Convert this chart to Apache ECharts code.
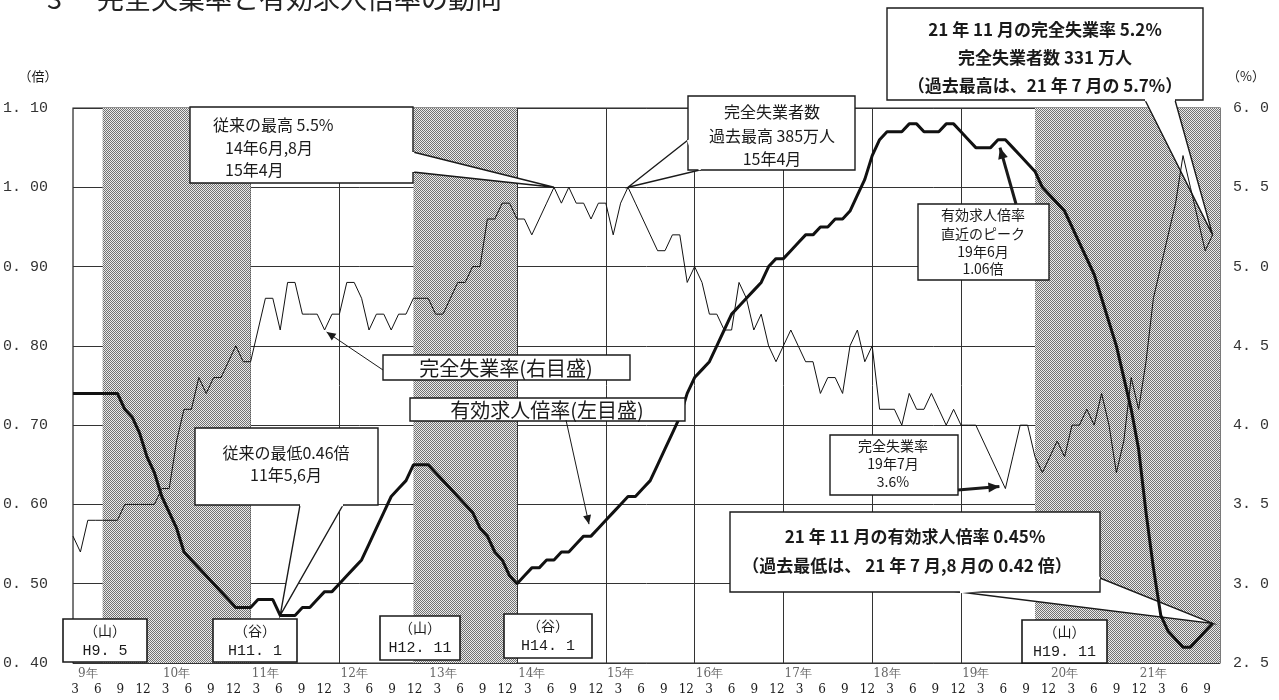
<!DOCTYPE html>
<html><head><meta charset="utf-8">
<script src="https://cdn.jsdelivr.net/npm/echarts@6/dist/echarts.min.js"></script>
<style>html,body{margin:0;padding:0;background:#fff;}#c{width:1279px;height:700px;}</style>
</head><body><div id="c"></div>
<script>
// ---- data ----
const categories = [];
for (let y = 1997; y <= 2009; y++) for (let m = 1; m <= 12; m++) categories.push(y + '-' + String(m).padStart(2, '0'));
const yearLabels = ['9年','10年','11年','12年','13年','14年','15年','16年','17年','18年','19年','20年','21年'];
const monthTickLabels = ['3','6','9','12'];
const leftTickLabels = ['0. 40','0. 50','0. 60','0. 70','0. 80','0. 90','1. 00','1. 10'];
const rightTickLabels = ['2. 5','3. 0','3. 5','4. 0','4. 5','5. 0','5. 5','6. 0'];
// 完全失業率 (%), Jan 1997 - Nov 2009
const unemploymentRate = [
 3.3,3.2,3.4,3.4,3.4,3.4,3.4,3.5,3.5,3.5,3.5,3.5,
 3.6,3.6,3.9,4.1,4.1,4.3,4.2,4.3,4.3,4.4,4.5,4.4,
 4.4,4.6,4.8,4.8,4.6,4.9,4.9,4.7,4.7,4.7,4.6,4.7,
 4.7,4.9,4.9,4.8,4.6,4.7,4.7,4.6,4.7,4.7,4.8,4.8,
 4.8,4.7,4.7,4.8,4.9,4.9,5.0,5.0,5.3,5.3,5.4,5.4,
 5.3,5.3,5.2,5.3,5.4,5.5,5.4,5.5,5.4,5.4,5.3,5.4,
 5.4,5.2,5.4,5.5,5.4,5.3,5.2,5.1,5.1,5.2,5.2,4.9,
 5.0,4.9,4.7,4.7,4.6,4.6,4.9,4.8,4.6,4.7,4.5,4.4,
 4.5,4.6,4.5,4.4,4.4,4.2,4.3,4.3,4.2,4.5,4.6,4.4,
 4.5,4.1,4.1,4.1,4.0,4.2,4.1,4.1,4.2,4.1,4.0,4.1,
 4.0,4.0,4.0,3.9,3.8,3.7,3.6,3.8,4.0,4.0,3.8,3.7,
 3.8,3.9,3.8,4.0,4.0,4.1,4.0,4.2,4.0,3.7,3.9,4.3,
 4.1,4.4,4.8,5.0,5.2,5.4,5.7,5.5,5.3,5.1,5.2
];
// 有効求人倍率 (倍), Jan 1997 - Nov 2009
const jobOpeningsRatio = [
 0.74,0.74,0.74,0.74,0.74,0.74,0.74,0.72,0.71,0.69,0.66,0.64,
 0.61,0.59,0.57,0.54,0.53,0.52,0.51,0.50,0.49,0.48,0.47,0.47,
 0.47,0.48,0.48,0.48,0.46,0.46,0.46,0.47,0.47,0.48,0.49,0.49,
 0.50,0.51,0.52,0.53,0.55,0.57,0.59,0.61,0.62,0.63,0.65,0.65,
 0.65,0.64,0.63,0.62,0.61,0.60,0.59,0.57,0.56,0.54,0.53,0.51,
 0.50,0.51,0.52,0.52,0.53,0.53,0.54,0.54,0.55,0.56,0.56,0.57,
 0.58,0.59,0.60,0.61,0.61,0.62,0.63,0.65,0.67,0.69,0.71,0.74,
 0.76,0.77,0.78,0.80,0.82,0.84,0.85,0.86,0.87,0.88,0.90,0.91,
 0.91,0.92,0.93,0.94,0.94,0.95,0.95,0.96,0.96,0.97,0.99,1.01,
 1.04,1.06,1.07,1.07,1.07,1.08,1.08,1.07,1.07,1.07,1.08,1.08,
 1.07,1.06,1.05,1.05,1.05,1.06,1.06,1.05,1.04,1.03,1.02,1.00,
 0.99,0.98,0.97,0.95,0.93,0.91,0.89,0.86,0.83,0.80,0.76,0.72,
 0.67,0.59,0.52,0.46,0.44,0.43,0.42,0.42,0.43,0.44,0.45
];
// 景気の山・谷 (shaded = recession)
const recessions = [['1997-05','1999-01'],['2000-11','2002-01'],['2007-11','2009-12']];

// ---- pattern for shaded bands ----
const pc = document.createElement('canvas'); pc.width = 2; pc.height = 2;
const pg = pc.getContext('2d');
pg.fillStyle = '#ebebeb'; pg.fillRect(0, 0, 2, 2);
pg.fillStyle = '#727272'; pg.fillRect(0, 0, 1, 1); pg.fillRect(1, 1, 1, 1);

const chart = echarts.init(document.getElementById('c'), null, {renderer: 'canvas'});
const serifNum = 'Liberation Mono';
const jp = '"Noto Sans CJK JP", "Noto Sans", sans-serif';
const option = {
  animation: false,
  backgroundColor: '#fff',
  grid: [
    {left: 73, right: 59, top: 108, bottom: 37, show: true, borderColor: '#222', borderWidth: 1.2, backgroundColor: 'transparent'},
    {left: 60, right: 49.3, top: 108, bottom: 37, show: false}
  ],
  xAxis: [
    {type: 'category', data: categories, boundaryGap: false, gridIndex: 0,
     axisLine: {show: false}, axisTick: {show: false},
     axisLabel: {interval: (i, v) => v.endsWith('-03'), formatter: v => yearLabels[+v.slice(0, 4) - 1997],
       margin: 5, fontSize: 12, color: '#666', fontFamily: 'DejaVu Serif, serif'},
     splitLine: {show: true, interval: (i) => i > 0 && i % 12 === 0, lineStyle: {color: '#333', width: 1}}},
    {type: 'category', data: categories, boundaryGap: false, gridIndex: 1,
     axisLine: {show: false}, axisTick: {show: false},
     axisLabel: {interval: (i, v) => i < 153 && (+v.slice(5)) % 3 === 0, formatter: v => monthTickLabels[(+v.slice(5)) / 3 - 1],
       margin: 21, fontSize: 12, color: '#1a1a1a', fontFamily: 'DejaVu Serif, serif'},
     splitLine: {show: false}}
  ],
  yAxis: [
    {type: 'value', min: 0.4, max: 1.1, interval: 0.1, gridIndex: 0,
     axisLine: {show: false}, axisTick: {show: false},
     axisLabel: {formatter: v => leftTickLabels[Math.round((v - 0.4) * 10)], margin: 25, fontSize: 15, color: '#333', fontFamily: serifNum},
     splitLine: {show: true, lineStyle: {color: '#333', width: 1}}},
    {type: 'value', min: 2.5, max: 6.0, interval: 0.5, gridIndex: 0, position: 'right',
     axisLine: {show: false}, axisTick: {show: false},
     axisLabel: {formatter: v => rightTickLabels[Math.round((v - 2.5) * 2)], margin: 13, fontSize: 15, color: '#333', fontFamily: serifNum},
     splitLine: {show: false}},
    {type: 'value', gridIndex: 1, show: false}
  ],
  series: [
    {type: 'line', name: 'bands', xAxisIndex: 0, yAxisIndex: 0, data: categories.map(() => null), z: 1, silent: true,
     markArea: {silent: true, itemStyle: {color: {image: pc, repeat: 'repeat'}},
       data: recessions.map(r => [{xAxis: r[0]}, {xAxis: r[1]}])}},
    {type: 'line', name: '完全失業率', xAxisIndex: 0, yAxisIndex: 1, data: unemploymentRate, symbol: 'none',
     lineStyle: {color: '#111', width: 1}, z: 3},
    {type: 'line', name: '有効求人倍率', xAxisIndex: 0, yAxisIndex: 0, data: jobOpeningsRatio, symbol: 'none',
     lineStyle: {color: '#111', width: 3}, z: 4},
    {type: 'line', xAxisIndex: 1, yAxisIndex: 2, data: []}
  ]
};
chart.setOption(option);

// ---- annotations ----
const ci = c => categories.indexOf(c);
const PU = (c, v) => chart.convertToPixel({xAxisIndex: 0, yAxisIndex: 1}, [ci(c), v]);
const PR = (c, v) => chart.convertToPixel({xAxisIndex: 0, yAxisIndex: 0}, [ci(c), v]);
const G = [];
const stroke = '#1a1a1a';
function box(x, y, w, h, lw) {
  G.push({type: 'rect', z: 20, shape: {x, y, width: w, height: h}, style: {fill: '#fff', stroke, lineWidth: lw || 1.4}});
}
function text(x, y, t, o) {
  o = o || {};
  G.push({type: 'text', z: 30, x, y, style: Object.assign({text: t, fill: '#1a1a1a', font: (o.weight || 'normal') + ' ' + (o.size || 15) + 'px ' + (o.family || jp),
    textAlign: o.align || 'center', textVerticalAlign: 'middle', lineHeight: o.lh || 20}, o.extra || {})});
}
function tail(b1, b2, tip, zz) {
  G.push({type: 'polygon', z: zz || 2.5, shape: {points: [b1, tip, b2]}, style: {fill: '#fff', stroke, lineWidth: 1.4}});
  G.push({type: 'line', z: 21, shape: {x1: b1[0], y1: b1[1], x2: b2[0], y2: b2[1]}, style: {stroke: '#fff', lineWidth: 2.4}});
}
function arrow(x1, y1, x2, y2, lw, head) {
  G.push({type: 'line', z: 25, shape: {x1, y1, x2, y2}, style: {stroke, lineWidth: lw}});
  const a = Math.atan2(y2 - y1, x2 - x1), L = head || 10, W = L * 0.45;
  const p = [[x2, y2], [x2 - L * Math.cos(a) + W * Math.sin(a), y2 - L * Math.sin(a) - W * Math.cos(a)],
             [x2 - L * Math.cos(a) - W * Math.sin(a), y2 - L * Math.sin(a) + W * Math.cos(a)]];
  G.push({type: 'polygon', z: 25, shape: {points: p}, style: {fill: stroke}});
}

// title (top cut off)
G.push({type: 'text', z: 30, x: 47, y: 12, style: {text: '3', font: '27px ' + jp, fill: '#222', textVerticalAlign: 'bottom'}});
G.push({type: 'text', z: 30, x: 97, y: 12, style: {text: '完全失業率と有効求人倍率の動向', font: '27px ' + jp, fill: '#222', textVerticalAlign: 'bottom'}});
// axis units
text(38, 76, '（倍）', {size: 13});
text(1246, 76, '（%）', {size: 13});

// 従来の最高
const tipHigh = PU('2002-06', 5.5);
box(190, 107, 223, 76);
tail([413, 152], [413, 172], tipHigh);
text(213, 125, '従来の最高 5.5%', {align: 'left', size: 16});
text(225, 148, '14年6月,8月', {align: 'left', size: 16});
text(225, 170, '15年4月', {align: 'left', size: 16});

// 完全失業者数 過去最高
const tipCount = PU('2003-04', 5.5);
box(688, 96, 167, 74);
tail([688, 140], [700, 170], tipCount);
text(772, 112, '完全失業者数', {size: 16});
text(772, 136, '過去最高 385万人', {size: 16});
text(772, 159, '15年4月', {size: 16});

// 21年11月の完全失業率
const tipU = PU('2009-11', 5.2);
box(887, 8, 316, 92);
tail([1145, 100], [1175, 100], tipU);
text(1045, 30, '21 年 11 月の完全失業率 5.2%', {size: 17, weight: 'bold'});
text(1045, 58, '完全失業者数 331 万人', {size: 17, weight: 'bold'});
text(1045, 86, '（過去最高は、21 年 7 月の 5.7%）', {size: 17, weight: 'bold'});

// legend-like labels
const tipLegU = PU('1999-11', 4.6);
arrow(383, 370, tipLegU[0] + 2, tipLegU[1] + 2, 1, 9);
box(383, 355, 247, 25);
text(506, 368, '完全失業率(右目盛)', {size: 20});
const tipLegR = PR('2002-11', 0.56);
arrow(566, 420, tipLegR[0] - 2, tipLegR[1] - 12, 1, 9);
box(410, 398, 275, 23);
text(547, 410, '有効求人倍率(左目盛)', {size: 20});

// 従来の最低
const tipLow = PR('1999-05', 0.46);
box(195, 428, 183, 77);
tail([300, 505], [343, 505], tipLow);
text(286, 453, '従来の最低0.46倍', {size: 16});
text(286, 475, '11年5,6月', {size: 16});

// 直近のピーク
const tipPeak = PR('2007-06', 1.06);
box(918, 204, 131, 76);
arrow(1016, 204, tipPeak[0] + 2, tipPeak[1] + 8, 3, 11);
text(983, 215, '有効求人倍率', {size: 14});
text(983, 234, '直近のピーク', {size: 14});
text(983, 252, '19年6月', {size: 14});
text(983, 269, '1.06倍', {size: 14});

// 19年7月 3.6%
const tipMin = PU('2007-07', 3.6);
box(830, 435, 128, 60);
arrow(958, 490, tipMin[0] - 6, tipMin[1] - 2, 3, 11);
text(893, 446, '完全失業率', {size: 14});
text(893, 464, '19年7月', {size: 14});
text(893, 482, '3.6%', {size: 14});

// 21年11月の有効求人倍率
const tipR = PR('2009-11', 0.45);
box(730, 512, 370, 80);
tail([960, 592], [1100, 578], tipR);
text(915, 537, '21 年 11 月の有効求人倍率 0.45%', {size: 17, weight: 'bold'});
text(907, 566, '（過去最低は、 21 年 7 月,8 月の 0.42 倍）', {size: 17, weight: 'bold'});

// business cycle boxes
function cyc(x, y, w, h, a, b) {
  box(x, y, w, h, 1.6);
  text(x + w / 2, y + 12, a, {size: 14});
  text(x + w / 2, y + 32, b, {size: 15, family: serifNum});
}
cyc(63, 619, 84, 43, '（山）', 'H9. 5');
cyc(213, 619, 84, 43, '（谷）', 'H11. 1');
cyc(380, 616, 80, 44, '（山）', 'H12. 11');
cyc(504, 614, 88, 44, '（谷）', 'H14. 1');
cyc(1022, 620, 85, 43, '（山）', 'H19. 11');

chart.setOption({graphic: {elements: G}});
</script></body></html>
